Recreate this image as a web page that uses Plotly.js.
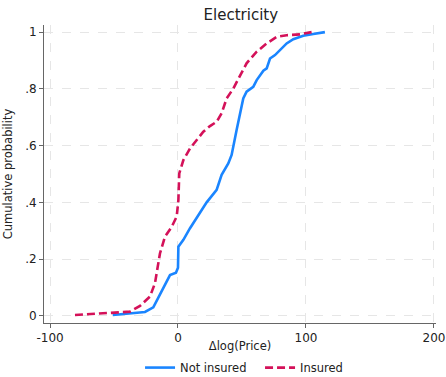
<!DOCTYPE html>
<html>
<head>
<meta charset="utf-8">
<script src="https://cdn.plot.ly/plotly-3.0.1.min.js"></script>
<style>html,body{margin:0;padding:0;background:#fff;}#chart{width:446px;height:377px;}</style>
</head>
<body>
<div id="chart"></div>
<script>
// Not insured (blue, solid)
const notInsuredX = [-51, -25.8, -19.3, -6.25, -1.6, 0.0, 0.3, 4.2, 9.4, 17.2, 22.4, 30.2, 34.1, 39.3, 41.9, 45.8, 48.4, 51, 53.6, 58.8, 61.5, 66.7, 69.3, 71.9, 75.8, 79.7, 84.9, 90.1, 97.9, 105.7, 114.8];
const notInsuredY = [0.003, 0.014, 0.03, 0.144, 0.152, 0.17, 0.244, 0.268, 0.309, 0.362, 0.40, 0.444, 0.497, 0.537, 0.567, 0.655, 0.714, 0.766, 0.79, 0.807, 0.831, 0.864, 0.872, 0.907, 0.919, 0.937, 0.96, 0.975, 0.987, 0.993, 1.0];
// Insured (red, dashed)
const insuredX = [-80.5, -61, -40, -37.5, -29.7, -21.9, -18, -14.1, -10.2, -4.9, -1, 0.3, 1.0, 4.2, 9.4, 14.6, 19.8, 25, 30.2, 34.1, 38, 43.2, 48.4, 53.6, 61.5, 69.3, 77.1, 84.9, 95.3, 104.4];
const insuredY = [0.003, 0.008, 0.012, 0.015, 0.035, 0.068, 0.115, 0.22, 0.279, 0.314, 0.35, 0.408, 0.502, 0.549, 0.59, 0.62, 0.649, 0.669, 0.684, 0.714, 0.766, 0.801, 0.843, 0.89, 0.931, 0.96, 0.983, 0.989, 0.992, 1.0];
const xTickVals = [-100, 0, 100, 200];
const xTickText = ['-100', '0', '100', '200'];
const yTickVals = [0, 0.2, 0.4, 0.6, 0.8, 1];
const yTickText = ['0', '.2', '.4', '.6', '.8', '1'];
const seriesNames = ['Not insured', 'Insured'];

const font = {family: 'DejaVu Sans, sans-serif', color: '#222'};
const traces = [
  {x: notInsuredX, y: notInsuredY, name: seriesNames[0], type: 'scatter', mode: 'lines',
   line: {color: '#1a85ff', width: 2.6}},
  {x: insuredX, y: insuredY, name: seriesNames[1], type: 'scatter', mode: 'lines',
   line: {color: '#d41159', width: 2.6, dash: '8px,4px'}}
];
const axisCommon = {
  showline: true, linecolor: '#666', linewidth: 1,
  ticks: 'outside', ticklen: 4, tickcolor: '#666', tickwidth: 1,
  showgrid: true, gridcolor: '#e6e6e6', griddash: 'dash', gridwidth: 1,
  zeroline: false, automargin: false,
  tickfont: {family: font.family, size: 12, color: '#222'}
};
const layout = {
  width: 446, height: 377,
  margin: {l: 44, r: 10, t: 25, b: 54},
  paper_bgcolor: '#fff', plot_bgcolor: '#fff',
  font: font,
  title: {text: 'Electricity', x: 0.54, xanchor: 'center', yref: 'container', y: 0.96, yanchor: 'middle',
          font: {family: font.family, size: 15, color: '#222'}},
  xaxis: Object.assign({}, axisCommon, {
    range: [-104.7, 201.6], tickmode: 'array', tickvals: xTickVals, ticktext: xTickText,
    title: {text: 'Δlog(Price)', standoff: 8, font: {family: font.family, size: 11.5, color: '#222'}}
  }),
  yaxis: Object.assign({}, axisCommon, {
    range: [-0.025, 1.025], tickmode: 'array', tickvals: yTickVals, ticktext: yTickText,
    title: {text: 'Cumulative probability', standoff: 10, font: {family: font.family, size: 11.5, color: '#222'}}
  }),
  showlegend: true,
  legend: {orientation: 'h', x: 0.245, xanchor: 'left', yref: 'container', y: 0.025, yanchor: 'middle',
           font: {family: font.family, size: 11.5, color: '#222'}, itemwidth: 30, entrywidth: 75}
};
Plotly.newPlot('chart', traces, layout, {displayModeBar: false, staticPlot: true});
</script>
</body>
</html>
